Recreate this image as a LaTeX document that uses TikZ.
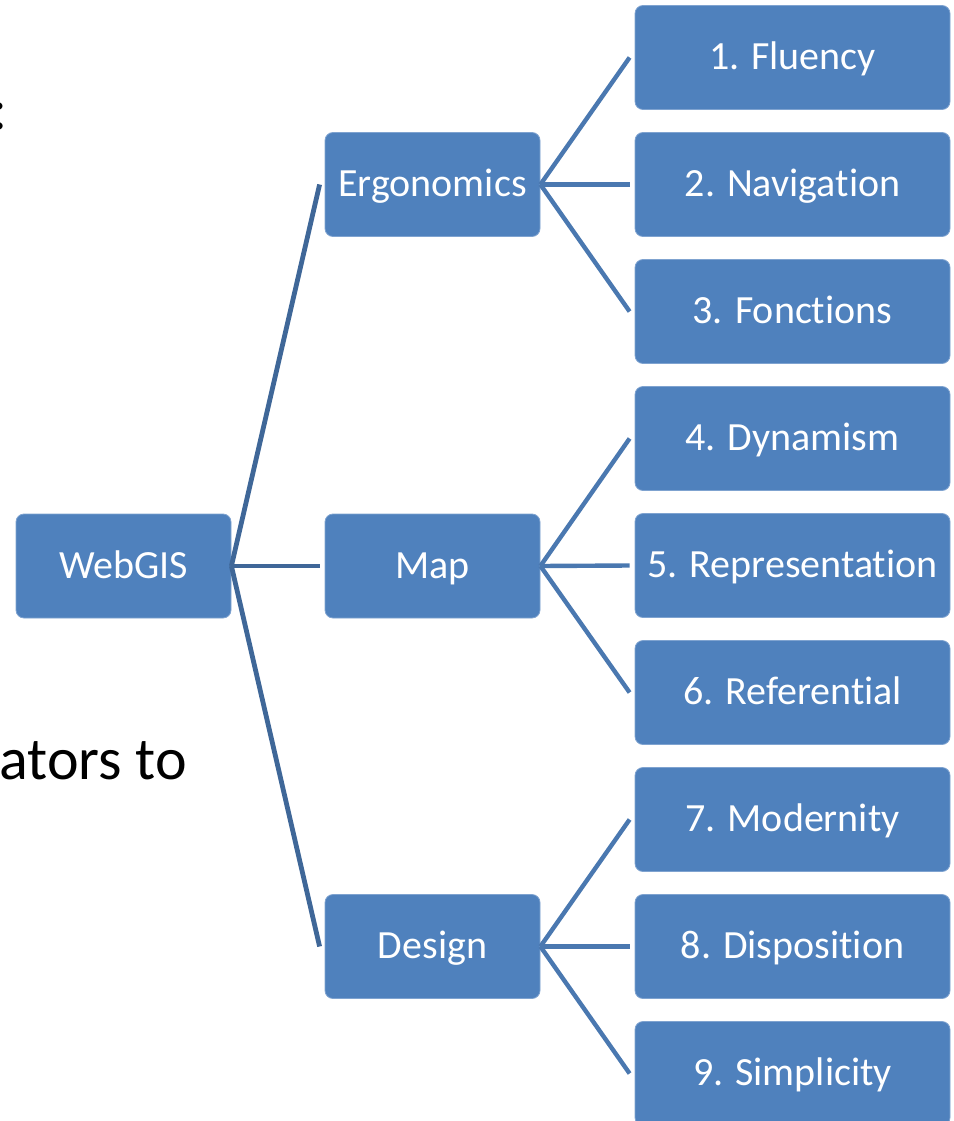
\documentclass[tikz,border=0pt]{standalone}
\usepackage{fontspec}
\setmainfont{Carlito}[Ligatures={NoCommon,NoContextual}]
\definecolor{boxfill}{HTML}{4F81BD}
\definecolor{boxedge}{HTML}{7FA3D0}
\definecolor{trunk}{HTML}{3F6798}
\definecolor{branch}{HTML}{4A78B0}
\tikzset{
  item/.style={draw=boxedge, line width=0.8pt, fill=boxfill, rounded corners=8pt,
    minimum width=215pt, minimum height=104pt, text=white, inner sep=0pt,
    text height=24pt, text depth=0pt,
    font=\fontsize{40}{44}\selectfont},
  leaf/.style={item, minimum width=315pt},
  trunkline/.style={draw=trunk, line width=4.8pt},
  branchline/.style={draw=branch, line width=4.4pt},
}
\begin{document}
\begin{tikzpicture}[x=1pt, y=-1pt]
\useasboundingbox (0,0) rectangle (953,1121);

% fragments of the surrounding slide text
\node[anchor=base east, inner sep=0pt, font=\fontsize{60}{64}\selectfont] (colon) at (8,129) {:};
\node[anchor=base east, inner sep=0pt, font=\fontsize{60}{64}\selectfont] (tail) at (187,779) {ators to};

% root
\node[item] (root) at (123.5,566) {WebGIS};

% second level
\node[item] (erg) at (432.5,184.5) {Ergonomics};
\node[item] (map) at (432.5,566) {Map};
\node[item] (des) at (432.5,946.5) {Design};

% third level
\foreach \i/\name/\txt in {0/l1/1. Fluency, 1/l2/2. Navigation, 2/l3/3. Fonctions,
                           3/l4/4. Dynamism, 4/l5/5. Representation, 5/l6/6. Referential,
                           6/l7/7. Modernity, 7/l8/8. Disposition, 8/l9/9. Simplicity}
  \node[leaf] (\name) at (792.5,{57.5+127*\i}) {\txt};

% root connectors
\foreach \t in {erg,map,des}
  \draw[trunkline] (root.east) -- ([xshift=-5pt]\t.west);

% second-level connectors
\foreach \p/\a/\b/\c in {erg/l1/l2/l3, map/l4/l5/l6, des/l7/l8/l9}
  \foreach \t in {\a,\b,\c}
    \draw[branchline] (\p.east) -- ([xshift=-5pt]\t.west);
\end{tikzpicture}
\end{document}
